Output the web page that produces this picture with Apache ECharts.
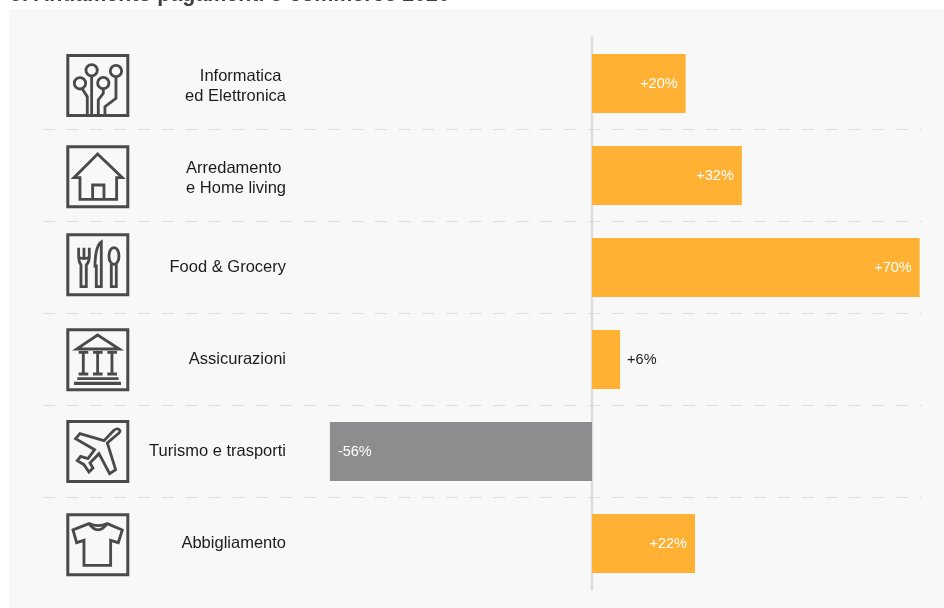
<!DOCTYPE html>
<html>
<head>
<meta charset="utf-8">
<style>
  html, body { margin: 0; padding: 0; background: #ffffff; }
  #chart { width: 944px; height: 608px; }
</style>
<script src="https://cdn.jsdelivr.net/npm/echarts@6/dist/echarts.min.js"></script>
</head>
<body>
<div id="chart"></div>
<script>
// Variazione dei pagamenti e-commerce per settore
const categories = [
  'Informatica \ned Elettronica',
  'Arredamento \ne Home living',
  'Food & Grocery',
  'Assicurazioni',
  'Turismo e trasporti',
  'Abbigliamento'
];
const changes = [20, 32, 70, 6, -56, 22];
const titleText = '5. Andamento pagamenti e-commerce 2020';

const ORANGE = '#FFB133';
const GREY = '#8C8D8E';
const INK = '#1C1C1C';
const ICON_INK = '#4A4A4A';

// Pictograms are authored on a 189-unit square and scaled down to 63 px.
const iconParts = [
  // circuit board
  [
    { circle: [76, 49, 17] }, { circle: [149, 51, 17] }, { circle: [41, 88, 17] }, { circle: [111, 87, 17] },
    { path: 'M48,105L63,128V184M76,66V184M111,104V118L96,138V184M149,68V133L116,158V184' }
  ],
  // house
  [
    { path: 'M94,26L23,97H41V162H151V97H168ZM79,162V119H113V162' }
  ],
  // fork, knife and spoon
  [
    { path: 'M37,43V70Q37,85 44,95V160H60V95Q69,85 69,70V43M53,43V72M37,72Q53,80 69,72' },
    { path: 'M105,26Q87,38 86,98H90V160H105Z' },
    { path: 'M143,43C134,43 128,54 128,68C128,82 134,93 143,93C152,93 158,82 158,68C158,54 152,43 143,43ZM135,93V160H150V93' }
  ],
  // bank with columns
  [
    { path: 'M94,20L31,62H159Z' },
    { path: 'M37,72H66M51,72V137M37,137H66M80,72H109M94,72V137M80,137H109M123,72H152M137,72V137M123,137H152M33,151H157' },
    { path: 'M23,165H164', width: 10 }
  ],
  // airliner
  [
    { path: 'M161,32Q158,25 150,27Q146,28 143,31L113,62L41,41L28,56L85,89L65,116L43,109L33,122L53,134L68,156L80,144L71,129L98,101L130,161L148,149L123,69L158,39Q162,36 161,32Z' }
  ],
  // t-shirt
  [
    { path: 'M68,31Q95,43 123,31L168,50L156,88L133,81V156H53V81L31,88L20,50Z' },
    { path: 'M68,31Q95,68 123,31' }
  ]
];
const iconTops = [54, 145.3, 233.3, 328.3, 420, 513.3];

// Draws one framed pictogram for its row.
function renderIcon(params) {
  const i = params.dataIndex;
  const stroke = { fill: 'none', stroke: ICON_INK, lineWidth: 8.5, lineJoin: 'miter' };
  const children = [
    { type: 'rect', shape: { x: 4.5, y: 4.5, width: 180, height: 180 }, style: { fill: 'none', stroke: ICON_INK, lineWidth: 9 } }
  ];
  iconParts[i].forEach(function (p) {
    if (p.circle) {
      children.push({ type: 'circle', shape: { cx: p.circle[0], cy: p.circle[1], r: p.circle[2] }, style: stroke });
    } else {
      children.push({ type: 'path', shape: { pathData: p.path }, style: Object.assign({}, stroke, p.width ? { lineWidth: p.width } : {}) });
    }
  });
  return { type: 'group', x: 66.3, y: iconTops[i], scaleX: 1 / 3, scaleY: 1 / 3, children: children };
}

// Short bars carry the label outside; long ones inside, in white.
function barItem(v) {
  const outside = Math.abs(v) < 10;
  const position = outside ? 'right' : (v < 0 ? 'insideLeft' : 'insideRight');
  return {
    value: v,
    itemStyle: { color: v < 0 ? GREY : ORANGE },
    label: { position: position, distance: outside ? 7 : 8, color: outside ? INK : '#FFFFFF' }
  };
}

// Two-line names sit slightly below the row's centre.
function categoryLabel(name) {
  const lines = name.split('\n');
  if (lines.length === 1) return name;
  return lines.map(function (l) { return '{line|' + l + '}'; }).join('\n');
}

const labelFont = { color: INK, fontFamily: 'Liberation Sans', fontSize: 16.5, lineHeight: 20 };

const chart = echarts.init(document.getElementById('chart'), null, { renderer: 'canvas' });
chart.setOption({
  backgroundColor: '#FFFFFF',
  animation: false,
  title: {
    text: titleText,
    left: 5,
    top: -20,
    textStyle: { fontFamily: 'Liberation Sans', fontSize: 21.4, fontWeight: 'bold', color: '#404040' }
  },
  grid: { left: 43, right: 22, top: 37.5, height: 552, containLabel: false, outerBoundsMode: 'none' },
  xAxis: {
    type: 'value',
    min: -117.3,
    max: 70.5,
    axisLine: { show: false },
    axisTick: { show: false },
    axisLabel: { show: false },
    splitLine: { show: false }
  },
  yAxis: {
    type: 'category',
    inverse: true,
    data: categories,
    axisLine: { show: true, onZero: true, lineStyle: { color: '#DCDCDC', width: 2.4 } },
    axisTick: { show: false },
    axisLabel: Object.assign({
      margin: -243,
      align: 'right',
      interval: 0,
      formatter: categoryLabel,
      rich: {
        line: Object.assign({ padding: [5, 0, 0, 0] }, labelFont)
      }
    }, labelFont),
    splitLine: {
      show: true,
      showMinLine: false,
      showMaxLine: false,
      lineStyle: { color: '#DDDDDD', width: 1.2, type: [12, 11.7] }
    }
  },
  series: [
    {
      type: 'bar',
      barWidth: 59,
      data: changes.map(barItem),
      label: {
        show: true,
        fontFamily: 'Liberation Sans',
        fontSize: 14.5,
        formatter: function (p) { return (p.value > 0 ? '+' : '') + p.value + '%'; }
      }
    },
    {
      type: 'custom',
      coordinateSystem: 'none',
      silent: true,
      data: categories.map(function (c, i) { return i; }),
      renderItem: renderIcon
    }
  ],
  graphic: [
    { type: 'rect', silent: true, z: -10, shape: { x: 9, y: 9, width: 935, height: 599 }, style: { fill: '#F8F8F8' } }
  ]
});
</script>
</body>
</html>
